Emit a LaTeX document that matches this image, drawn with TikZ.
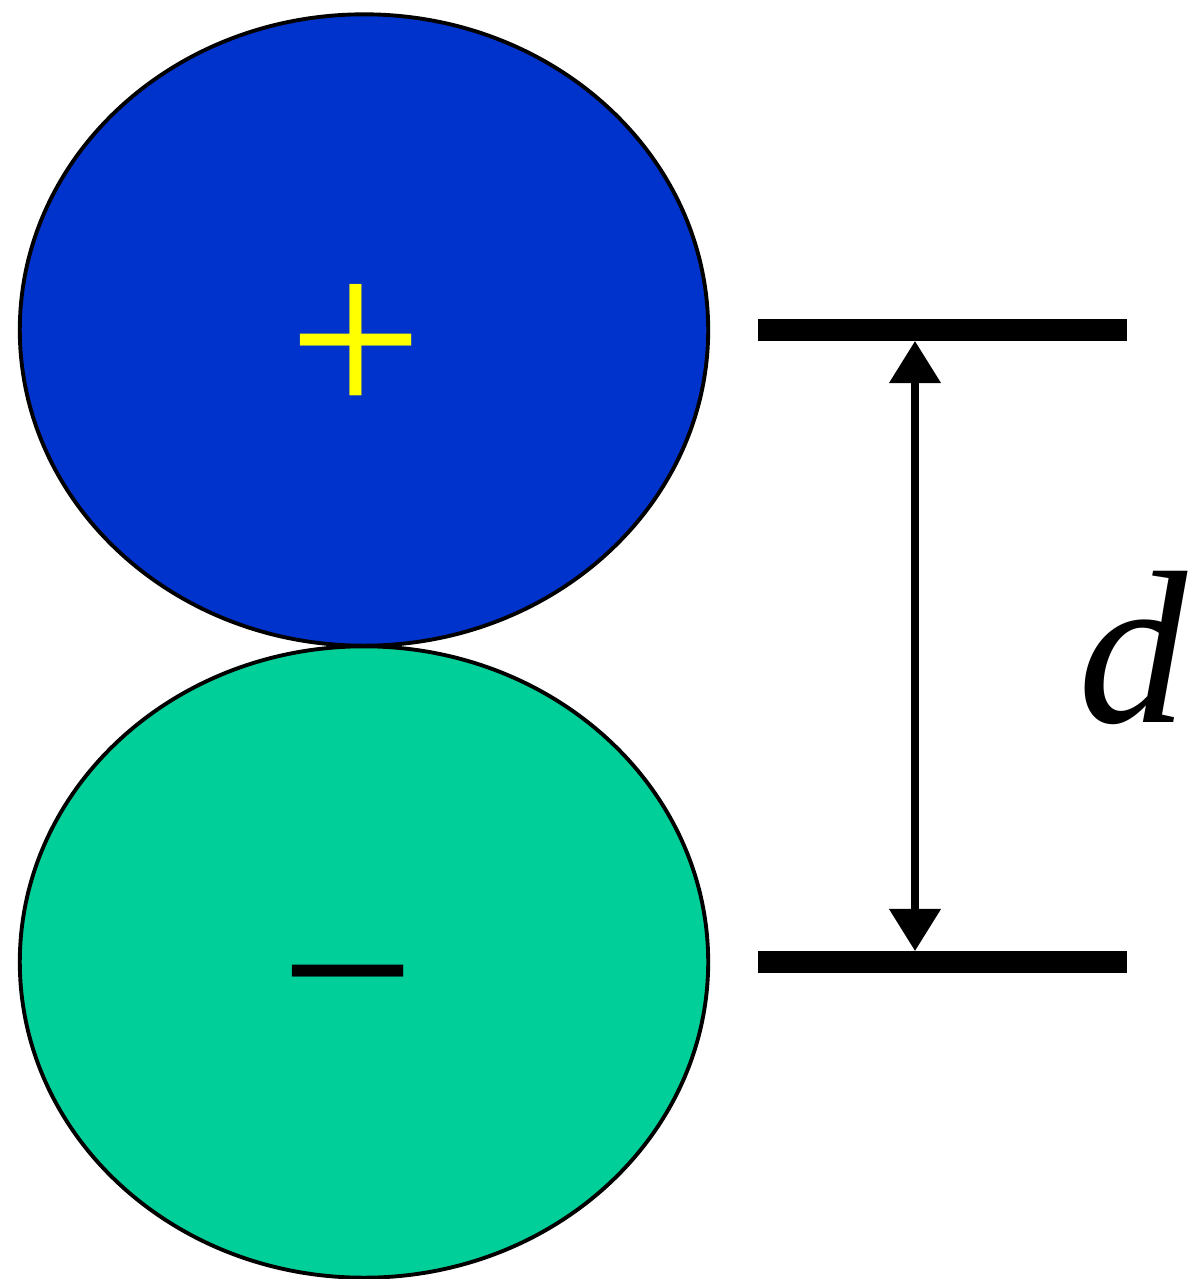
\documentclass[tikz,border=0pt]{standalone}
\usepackage{fontspec}
\setmainfont{Liberation Serif}
\usetikzlibrary{shapes.geometric,arrows.meta}
\definecolor{pblue}{HTML}{0033CC}
\definecolor{ngreen}{HTML}{00CF99}
\definecolor{pyellow}{HTML}{FFFF00}

\begin{document}
\begin{tikzpicture}[x=0.01cm,y=-0.01cm,
  ball/.style={ellipse,draw=black,line width=1.1pt,minimum width=6.88cm,minimum height=6.31cm,inner sep=0pt},
  sign/.style={font=\fontsize{68}{68}\selectfont,inner sep=0pt},
  bar/.style={line width=0.22cm},
  dimarrow/.style={line width=2.1pt,{Triangle[length=0.42cm,width=0.5cm]}-{Triangle[length=0.42cm,width=0.5cm]}}]
\useasboundingbox (0,0) rectangle (1198,1279);
\node[ball,fill=pblue] (pos) at (364,330) {};
\node[ball,fill=ngreen] (neg) at (364,962) {};
\node[sign,text=pyellow] (plus) at (356,352) {+};
\node[sign,text=black] (minus) at (348,1008) {−};
% separation bars
\coordinate (tbarl) at (758,330); \coordinate (tbarr) at (1127,330);
\coordinate (bbarl) at (758,962); \coordinate (bbarr) at (1127,962);
\draw[bar] (tbarl) -- (tbarr);
\draw[bar] (bbarl) -- (bbarr);
\coordinate (ttip) at (915,341); \coordinate (btip) at (915,951);
\draw[dimarrow] (ttip) -- (btip);
\node[font=\itshape\fontsize{62}{62}\selectfont,anchor=base west,inner sep=0pt] (dlbl) at (1078,722) {d};
\end{tikzpicture}
\end{document}
